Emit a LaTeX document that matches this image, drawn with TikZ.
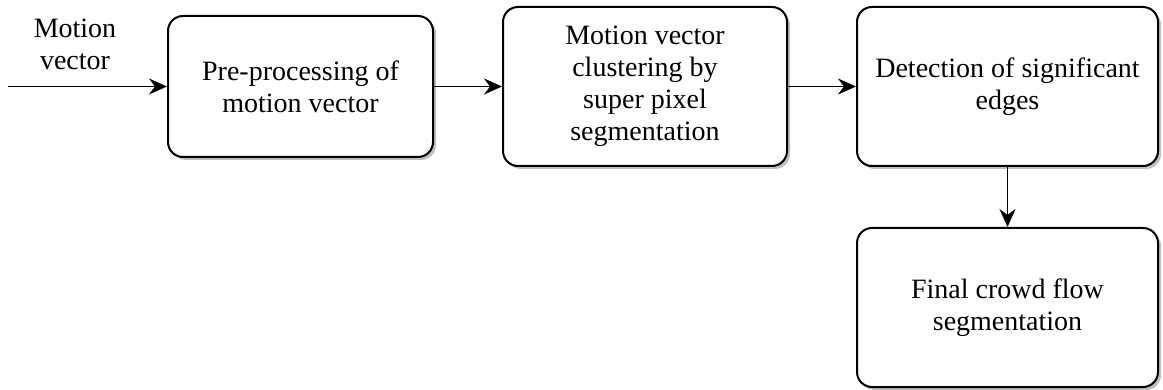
\documentclass[tikz,border=0pt]{standalone}
\usepackage{fontspec}
\setmainfont{Liberation Serif}
\usetikzlibrary{arrows.meta,shadows}

\tikzset{
  stage/.style={draw=black, line width=2pt, fill=white, rounded corners=15pt,
    align=center, inner sep=4pt,
    font=\fontsize{28}{32}\selectfont,
    drop shadow={shadow xshift=3pt, shadow yshift=-3pt, fill=black, opacity=0.25}},
  flow/.style={line width=1.8pt, -{Stealth[length=18pt,width=16pt,inset=6pt]}},
  caption/.style={align=center, inner sep=0pt, font=\fontsize{28}{32}\selectfont}
}

\begin{document}
\begin{tikzpicture}[x=1pt, y=-1pt]
  \useasboundingbox (0,0) rectangle (1163,390);

  % processing stages
  \node[stage, minimum width=265pt, minimum height=141pt] (pre) at (300.5,86.5)
    {Pre-processing of\\motion vector};
  \node[stage, minimum width=284pt, minimum height=159pt] (clus) at (645,86.5)
    {Motion vector\\clustering by\\super pixel\\segmentation};
  \node[stage, minimum width=301pt, minimum height=159pt] (edge) at (1007.5,86.5)
    {Detection of significant\\edges};
  \node[stage, minimum width=301pt, minimum height=159pt] (final) at (1007.5,307.5)
    {Final crowd flow\\segmentation};

  % input
  \coordinate (src) at (8,86.5);
  \node[caption] (input) at (75,44) {Motion\\vector};

  % connectors
  \draw[flow] (src) -- (pre.west);
  \draw[flow] (pre.east) -- (clus.west);
  \draw[flow] (clus.east) -- (edge.west);
  \draw[flow] (edge.south) -- (final.north);
\end{tikzpicture}
\end{document}
